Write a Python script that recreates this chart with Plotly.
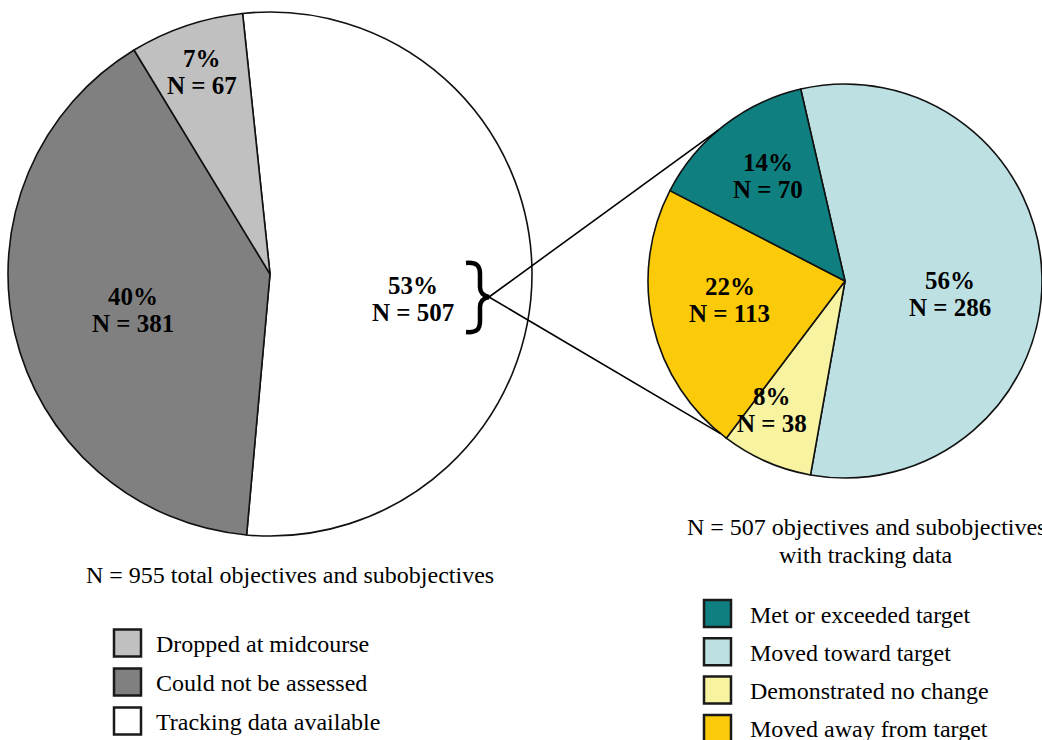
import math
import plotly.graph_objects as go

# ---------------- data ----------------
left_categories = ["Dropped at midcourse", "Could not be assessed", "Tracking data available"]
left_values = [67, 381, 507]
left_percents = [7, 40, 53]
left_caption = ["N = 955 total objectives and subobjectives"]

right_categories = ["Met or exceeded target", "Moved toward target",
                    "Demonstrated no change", "Moved away from target"]
right_values = [70, 286, 38, 113]
right_percents = [14, 56, 8, 22]
right_caption = ["N = 507 objectives and subobjectives", "with tracking data"]

# ---------------- styles ----------------
left_colors = ["#c0c0c0", "#808080", "#ffffff"]
right_colors = ["#0f7f7f", "#bde0e3", "#f7f3a1", "#fbcb0a"]

W, H = 1042, 740
FONT = "Liberation Serif"


def fx(x):
    return x / W


def fy(y):
    return 1 - y / H


# pie geometry in pixels; slices run clockwise from `start` (degrees from 12 o'clock)
LEFT = dict(cx=270, cy=274, r=262, start=-6.0, cw_order=[2, 1, 0],
            label_frac=[0.813, 0.54, 0.554], label_shift=[0.0, -1.6, 10.3])
RIGHT = dict(cx=845, cy=281, r=197, start=-13.0, cw_order=[1, 2, 3, 0],
             label_frac=[0.661, 0.537, 0.752, 0.592], label_shift=[1.6, 8.5, 5.9, 3.4])

fig = go.Figure()
annotations = []
shapes = []


def add_pie(geo, cats, vals, pcts, colors):
    order = geo["cw_order"]
    cx, cy, r = geo["cx"], geo["cy"], geo["r"]
    fig.add_trace(go.Pie(
        labels=[cats[i] for i in order],
        values=[vals[i] for i in order],
        marker=dict(colors=[colors[i] for i in order], line=dict(color="#111111", width=1.6)),
        sort=False, direction="clockwise", rotation=geo["start"],
        textinfo="none", hoverinfo="label+value", showlegend=False,
        domain=dict(x=[fx(cx - r), fx(cx + r)], y=[fy(cy + r), fy(cy - r)]),
    ))
    total = sum(vals)
    cur = geo["start"]
    for i in order:
        span = 360.0 * vals[i] / total
        mid = cur + span / 2 + geo["label_shift"][i]
        cur += span
        rr = geo["label_frac"][i] * r
        lx = cx + rr * math.sin(math.radians(mid))
        ly = cy - rr * math.cos(math.radians(mid))
        for txt, dy in ((f"<b>{pcts[i]}%</b>", -13.5), (f"<b>N = {vals[i]}</b>", 13.5)):
            annotations.append(dict(
                x=fx(lx), y=fy(ly + dy), xref="paper", yref="paper",
                text=txt, showarrow=False, xanchor="center", yanchor="middle",
                font=dict(family=FONT, size=25, color="black")))


add_pie(LEFT, left_categories, left_values, left_percents, left_colors)
add_pie(RIGHT, right_categories, right_values, right_percents, right_colors)

# brace and connector lines
tip = (489, 297)
brace_pts = ("M {a},{b} C {c},{d} {e},{f} {e},{g} L {e},{h} C {e},{i} {j},{k} {tx},{ty} "
             "C {j},{l} {e},{m} {e},{n} L {e},{o} C {e},{p} {c},{q} {a},{s}")
bp = dict(a=fx(466), b=fy(263), c=fx(477), d=fy(262), e=fx(480), f=fy(266), g=fy(274),
          h=fy(287), i=fy(292), j=fx(483), k=fy(296), tx=fx(tip[0]), ty=fy(tip[1]),
          l=fy(298), m=fy(302), n=fy(307), o=fy(321), p=fy(329), q=fy(333), s=fy(332))
shapes.append(dict(type="path", xref="paper", yref="paper", path=brace_pts.format(**bp),
                   line=dict(color="black", width=4.5)))

for ang in (-40.0, -140.8):
    ex = RIGHT["cx"] + RIGHT["r"] * math.sin(math.radians(ang))
    ey = RIGHT["cy"] - RIGHT["r"] * math.cos(math.radians(ang))
    shapes.append(dict(type="line", xref="paper", yref="paper",
                       x0=fx(tip[0]), y0=fy(tip[1]), x1=fx(ex), y1=fy(ey),
                       line=dict(color="black", width=1.6)))

# captions
annotations.append(dict(x=fx(290), y=fy(575), xref="paper", yref="paper", text=left_caption[0],
                        showarrow=False, xanchor="center", yanchor="middle",
                        font=dict(family=FONT, size=24, color="black")))
for k, line in enumerate(right_caption):
    annotations.append(dict(x=fx(866), y=fy(527 + 28 * k), xref="paper", yref="paper", text=line,
                            showarrow=False, xanchor="center", yanchor="middle",
                            font=dict(family=FONT, size=24, color="black")))


# custom legends
def add_legend(cats, colors, box_x, text_x, y0, step, size):
    for k, (c, col) in enumerate(zip(cats, colors)):
        yc = y0 + step * k
        shapes.append(dict(type="rect", xref="paper", yref="paper",
                           x0=fx(box_x), x1=fx(box_x + size),
                           y0=fy(yc + size / 2), y1=fy(yc - size / 2),
                           fillcolor=col, line=dict(color="#1a1a1a", width=2.5)))
        annotations.append(dict(x=fx(text_x), y=fy(yc + 1), xref="paper", yref="paper", text=c,
                                showarrow=False, xanchor="left", yanchor="middle",
                                font=dict(family=FONT, size=24, color="black")))


add_legend(left_categories, left_colors, 114, 154, 643, 39, 27)
add_legend(right_categories, right_colors, 704, 748, 613.5, 38.3, 27)

fig.update_layout(
    width=W, height=H, autosize=False,
    margin=dict(l=0, r=0, t=0, b=0),
    paper_bgcolor="white", plot_bgcolor="white",
    annotations=annotations, shapes=shapes,
    showlegend=False,
)

fig.write_html("out.html")
